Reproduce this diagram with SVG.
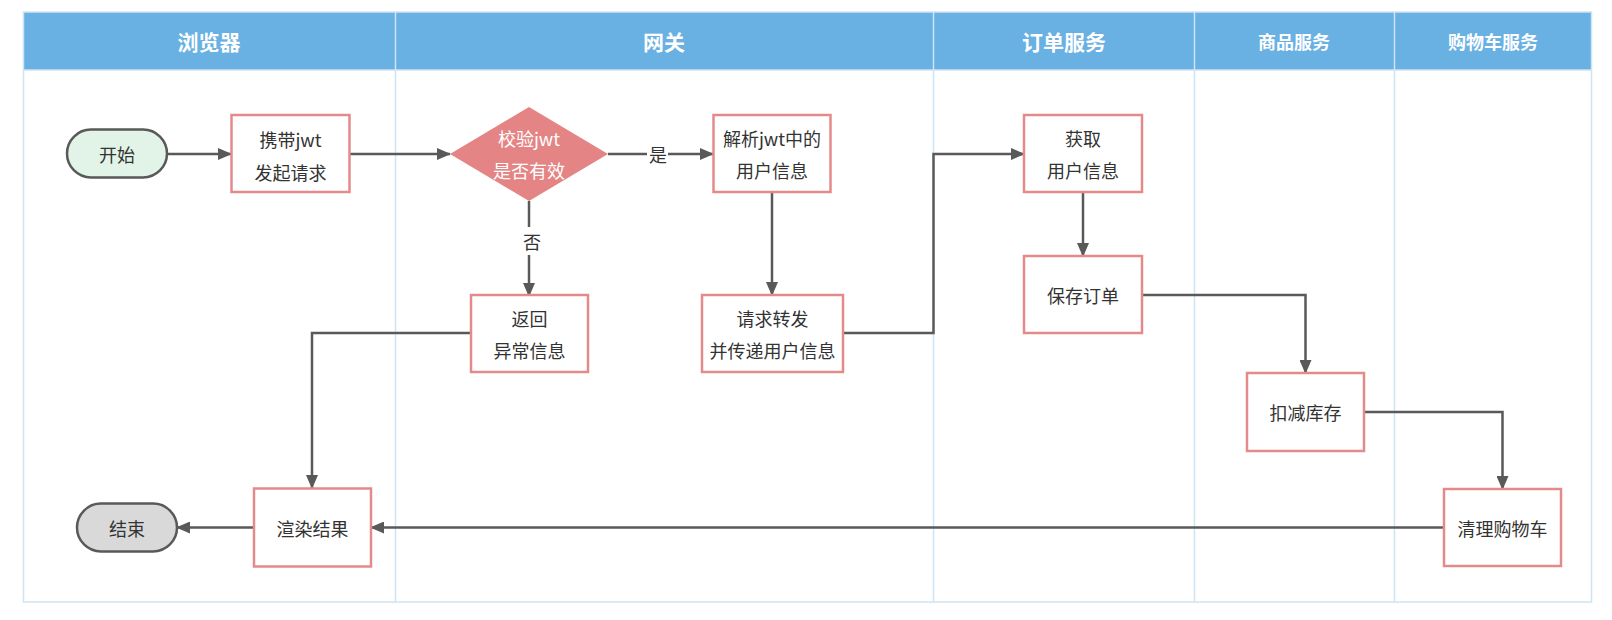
<svg xmlns="http://www.w3.org/2000/svg" width="1612" height="620" viewBox="0 0 1612 620">
<style>
.lane{fill:none;stroke:#CFE4F2;stroke-width:1.5}
.hdr{fill:#69B0E3}
.ht{font-family:"Noto Sans CJK SC","Noto Sans",sans-serif;font-weight:bold;fill:#fff;text-anchor:middle;dominant-baseline:central}
.box{fill:#fff;stroke:#E58A8A;stroke-width:2.5}
.t{font-family:"Noto Sans CJK SC","Noto Sans",sans-serif;font-size:18px;fill:#333;text-anchor:middle;dominant-baseline:central}
.tw{fill:#fff}
.c{fill:none;stroke:#595959;stroke-width:2.5}
</style>
<defs>
<marker id="arr" markerUnits="userSpaceOnUse" markerWidth="14" markerHeight="12" refX="13" refY="6" orient="auto">
<path d="M0,0 L14,6 L0,12 Z" fill="#595959"/>
</marker>
</defs>
<rect width="1612" height="620" fill="#fff"/>
<g id="swimlanes">
<rect class="hdr" x="23.5" y="12" width="1568" height="58"/>
<rect class="lane" x="23.5" y="12" width="1568" height="590"/>
<line class="lane" x1="23.5" y1="70" x2="1591.5" y2="70"/>
<line class="lane" x1="395.5" y1="12" x2="395.5" y2="602"/>
<line class="lane" x1="933.5" y1="12" x2="933.5" y2="602"/>
<line class="lane" x1="1194.5" y1="12" x2="1194.5" y2="602"/>
<line class="lane" x1="1394.5" y1="12" x2="1394.5" y2="602"/>
<text class="ht" x="209" y="41" font-size="21">浏览器</text>
<text class="ht" x="664" y="41" font-size="21">网关</text>
<text class="ht" x="1064" y="41" font-size="21">订单服务</text>
<text class="ht" x="1294" y="41" font-size="18">商品服务</text>
<text class="ht" x="1493" y="41" font-size="18">购物车服务</text>
</g>
<g id="connectors">
<line class="c" x1="167" y1="154" x2="231" y2="154" marker-end="url(#arr)"/>
<line class="c" x1="350" y1="154" x2="450" y2="154" marker-end="url(#arr)"/>
<line class="c" x1="608" y1="154" x2="713" y2="154" marker-end="url(#arr)"/>
<line class="c" x1="529" y1="201" x2="529" y2="296" marker-end="url(#arr)"/>
<line class="c" x1="772" y1="192" x2="772" y2="295" marker-end="url(#arr)"/>
<polyline class="c" points="843,333 933.5,333 933.5,154 1024,154" marker-end="url(#arr)"/>
<polyline class="c" points="471,333 312,333 312,488" marker-end="url(#arr)"/>
<line class="c" x1="1083" y1="192" x2="1083" y2="256" marker-end="url(#arr)"/>
<polyline class="c" points="1142,295 1305.5,295 1305.5,373" marker-end="url(#arr)"/>
<polyline class="c" points="1364,412 1502.5,412 1502.5,489" marker-end="url(#arr)"/>
<line class="c" x1="1444" y1="527.5" x2="371" y2="527.5" marker-end="url(#arr)"/>
<line class="c" x1="254" y1="527.5" x2="177" y2="527.5" marker-end="url(#arr)"/>
<rect x="647" y="143" width="21" height="22" fill="#fff"/>
<text class="t" x="658" y="154">是</text>
<rect x="518" y="227" width="26" height="28" fill="#fff"/>
<text class="t" x="532" y="241">否</text>
</g>
<g id="start">
<rect x="67" y="129.5" width="100" height="48" rx="24" fill="#E2F3E7" stroke="#595959" stroke-width="2.5"/>
<text class="t" x="117" y="153.5">开始</text>
</g>
<g id="carry">
<rect class="box" x="231.5" y="115" width="118" height="77"/>
<text class="t" x="290.5" y="139">携带jwt</text>
<text class="t" x="290.5" y="172">发起请求</text>
</g>
<g id="check">
<polygon points="450,154 529,107 608,154 529,201" fill="#E48484"/>
<text class="t tw" x="529" y="138">校验jwt</text>
<text class="t tw" x="529" y="170">是否有效</text>
</g>
<g id="parse">
<rect class="box" x="713.5" y="115" width="117" height="77"/>
<text class="t" x="772" y="138">解析jwt中的</text>
<text class="t" x="772" y="170">用户信息</text>
</g>
<g id="return">
<rect class="box" x="471" y="295" width="117" height="77"/>
<text class="t" x="529.5" y="318">返回</text>
<text class="t" x="529.5" y="350">异常信息</text>
</g>
<g id="forward">
<rect class="box" x="702" y="295" width="141" height="77"/>
<text class="t" x="772.5" y="318">请求转发</text>
<text class="t" x="772.5" y="350">并传递用户信息</text>
</g>
<g id="getuser">
<rect class="box" x="1024" y="115" width="118" height="77"/>
<text class="t" x="1083" y="138">获取</text>
<text class="t" x="1083" y="170">用户信息</text>
</g>
<g id="saveorder">
<rect class="box" x="1024" y="256" width="118" height="77"/>
<text class="t" x="1083" y="294.5">保存订单</text>
</g>
<g id="deduct">
<rect class="box" x="1247" y="373" width="117" height="78"/>
<text class="t" x="1305.5" y="412">扣减库存</text>
</g>
<g id="clearcart">
<rect class="box" x="1444" y="489" width="117" height="77"/>
<text class="t" x="1502.5" y="527.5">清理购物车</text>
</g>
<g id="render">
<rect class="box" x="254" y="488.5" width="117" height="78"/>
<text class="t" x="312.5" y="527.5">渲染结果</text>
</g>
<g id="end">
<rect x="77" y="503.5" width="100" height="48" rx="24" fill="#D9D9D9" stroke="#595959" stroke-width="2.5"/>
<text class="t" x="127" y="527.5">结束</text>
</g>
</svg>
